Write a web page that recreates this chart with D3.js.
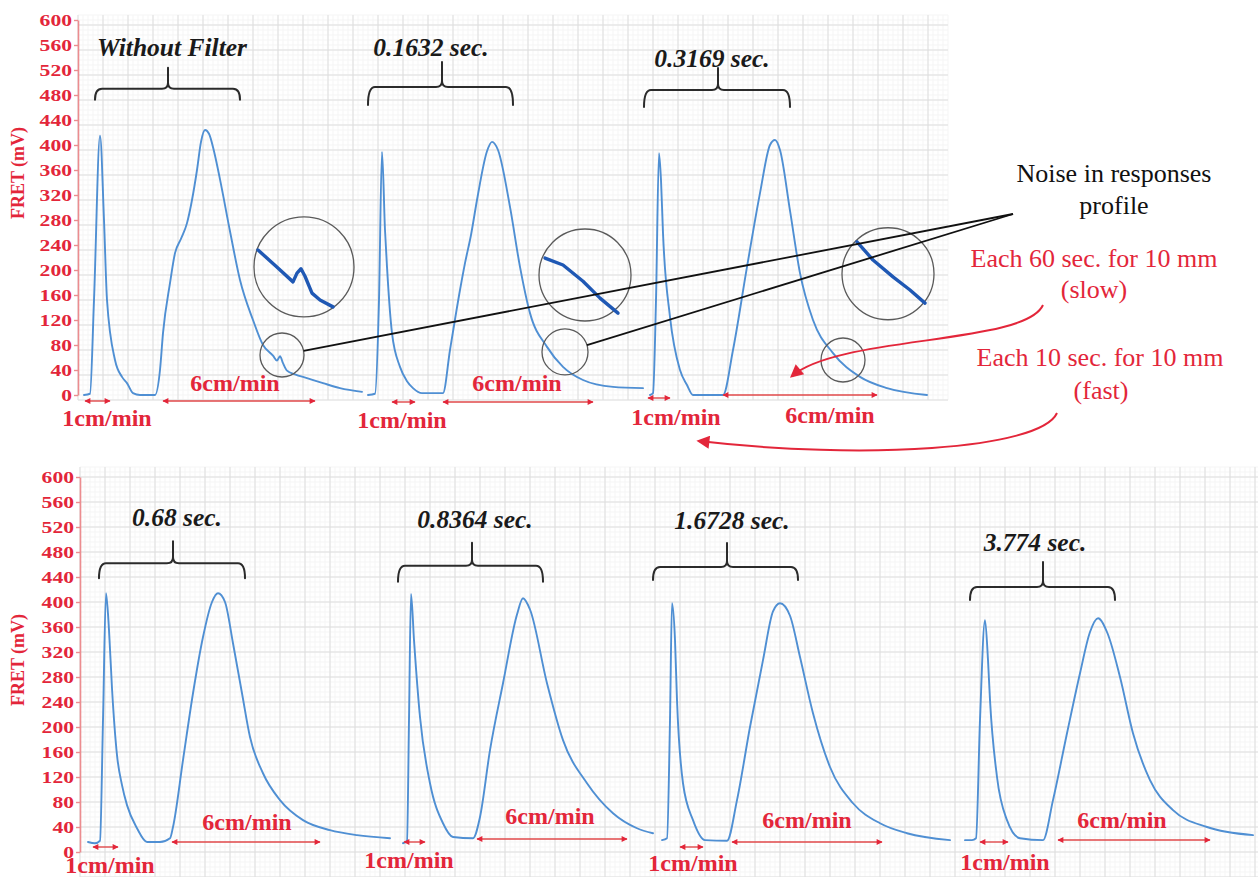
<!DOCTYPE html>
<html>
<head>
<meta charset="utf-8">
<script src="https://cdn.jsdelivr.net/npm/d3@7"></script>
<style>
  html, body { margin: 0; padding: 0; background: #fff; }
  svg { display: block; }
  svg text { font-family: "Liberation Serif", "Times New Roman", Tinos, "DejaVu Serif", serif; }
</style>
</head>
<body>
<svg id="chart" width="1258" height="877"></svg>
<script>
// ---- FRET response profiles (x: chart-paper divisions, y: FRET in mV) ----
const yTicks = [0, 40, 80, 120, 160, 200, 240, 280, 320, 360, 400, 440, 480, 520, 560, 600];

// upper strip
const withoutFilter = [[0.24,0],[0.48,2],[0.64,152],[0.88,415],[1.04,280],[1.16,152],[1.48,56],[1.76,29],[1.96,19],[2.2,3],[2.48,0],[3.08,0],
  [3.28,40],[3.4,99],[3.68,179],[3.88,227],[4.12,250],[4.36,275],[4.56,312],[4.76,360],[4.92,405],[5.08,424],[5.24,418],[5.44,390],[5.68,345],
  [6.08,262],[6.48,184],[7.0,120],[7.4,80],[7.8,63],[7.96,55],[8.08,62],[8.2,51],[8.36,39],[8.68,33],[9.16,27],[9.8,19],[10.48,11],[11.36,5]];
const filter01632 = [[11.6,0],[11.88,2],[12.04,152],[12.16,389],[12.28,264],[12.36,205],[12.56,99],[12.88,45],[13.16,22],[13.4,11],[13.76,3],[14.6,3],
  [14.88,72],[15.28,168],[15.48,211],[15.72,256],[15.96,312],[16.36,390],[16.56,405],[16.8,392],[17.28,301],[17.68,205],[18.08,131],
  [18.76,77],[19.4,45],[20.2,24],[21.4,13],[22.6,11]];
const filter03169 = [[22.88,0],[23.0,3],[23.12,152],[23.24,387],[23.32,344],[23.4,259],[23.68,125],[24.08,40],[24.36,16],[24.6,0],[25.8,0],
  [26.2,72],[26.76,205],[27.28,323],[27.68,400],[27.88,408],[28.08,392],[28.48,295],[28.88,195],[29.4,120],[30.2,67],[31.28,29],[32.36,11],[33.96,0]];

// lower strip
const filter068 = [[0.32,16],[0.6,14],[0.8,18],[0.92,211],[1.04,414],[1.16,355],[1.28,262],[1.48,155],[1.68,107],[1.88,75],[2.28,38],[2.68,16],[3.2,16],
  [3.6,22],[3.72,40],[4.12,147],[4.52,254],[4.92,344],[5.28,400],[5.52,414],[5.8,400],[6.12,334],[6.48,254],[6.8,184],[7.32,126],[8.0,83],
  [8.92,51],[10.0,35],[11.08,27],[12.4,22]];
const filter08364 = [[12.92,14],[13.08,18],[13.16,211],[13.24,413],[13.36,339],[13.6,216],[14.0,110],[14.52,46],[14.92,24],[15.72,22],
  [16.0,56],[16.4,163],[16.92,270],[17.48,380],[17.72,406],[18.0,388],[18.68,270],[19.32,179],[20.28,110],[21.32,62],[22.28,38],[22.92,30]];
const filter16728 = [[23.28,19],[23.48,22],[23.6,211],[23.68,398],[23.8,339],[23.88,243],[24.12,110],[24.52,51],[25.0,19],[25.88,18],
  [26.28,83],[26.8,200],[27.32,307],[27.72,385],[28.0,398],[28.4,378],[28.8,312],[29.32,222],[30.0,136],[30.92,78],[32.0,46],[33.08,30],[34.8,19]];
const filter3774 = [[35.4,19],[35.68,19],[35.84,22],[36.0,211],[36.2,371],[36.32,307],[36.4,243],[36.68,120],[37.08,51],[37.6,22],[38.52,19],
  [38.92,83],[39.48,190],[40.0,286],[40.4,352],[40.72,374],[41.1,350],[41.6,280],[42.12,190],[42.8,115],[43.72,67],[45.08,40],[46.92,27]];

// magnified views of the tail noise (upper strip)
const zoomNoise1 = [[7.2,232],[7.92,206],[8.6,181],[8.76,195],[8.92,202],[9.08,190],[9.36,163],[9.68,152],[10.2,141]];
const zoomNoise2 = [[18.68,219],[19.4,208],[20.2,182],[20.88,155],[21.6,131]];
const zoomNoise3 = [[31.16,245],[31.8,216],[32.6,189],[33.28,168],[33.88,147]];

// lens circles: centre (div, mV), radius (div)
const lensCircles = [
  { cx: 9.04, cy: 205, r: 2.0 }, { cx: 8.16, cy: 64, r: 0.88, lead: true },
  { cx: 20.28, cy: 192, r: 1.84 }, { cx: 19.48, cy: 69, r: 0.92, lead: true },
  { cx: 32.4, cy: 194, r: 1.84 }, { cx: 30.6, cy: 56, r: 0.88 }
];

// filter time-constant labels over each run
const bracketLabels = ["Without Filter", "0.1632 sec.", "0.3169 sec.", "0.68 sec.", "0.8364 sec.", "1.6728 sec.", "3.774 sec."];
const bracketSpans = [
  { p: 0, x0: 0.68, x1: 6.48, xc: 3.6, top: 490, drop: 11, tick: 21, lx: 3.76, lift: 42 },
  { p: 0, x0: 11.6, x1: 17.4, xc: 14.56, top: 493, drop: 18, tick: 25, lx: 14.12, lift: 40 },
  { p: 0, x0: 22.64, x1: 28.48, xc: 25.6, top: 488, drop: 17, tick: 22, lx: 25.36, lift: 32 },
  { p: 1, x0: 0.76, x1: 6.6, xc: 3.72, top: 462, drop: 15, tick: 22, lx: 3.88, lift: 46 },
  { p: 1, x0: 12.72, x1: 18.52, xc: 15.68, top: 458, drop: 16, tick: 23, lx: 15.8, lift: 47 },
  { p: 1, x0: 22.92, x1: 28.72, xc: 25.88, top: 456, drop: 13, tick: 24, lx: 26.08, lift: 47 },
  { p: 1, x0: 35.6, x1: 41.4, xc: 38.52, top: 424, drop: 13, tick: 25, lx: 38.2, lift: 45 }
];

// chart speed markers (double arrows under the traces)
const speedLabels = ["1cm/min", "6cm/min"];
const speedMarks = [
  { p: 0, s: 0, x0: 0.28, x1: 1.28, off: 6, lx: 1.16, loff: 23 },
  { p: 0, s: 1, x0: 3.4, x1: 9.48, off: 6, lx: 6.28, loff: -12 },
  { p: 0, s: 0, x0: 12.56, x1: 13.48, off: 7, lx: 12.96, loff: 25 },
  { p: 0, s: 1, x0: 14.6, x1: 20.6, off: 7, lx: 17.56, loff: -12 },
  { p: 0, s: 0, x0: 22.8, x1: 23.68, off: 3, lx: 23.92, loff: 22 },
  { p: 0, s: 1, x0: 25.8, x1: 31.96, off: 0, lx: 30.08, loff: 20 },
  { p: 1, s: 0, x0: 0.52, x1: 1.52, off: -5, lx: 1.2, loff: 13 },
  { p: 1, s: 1, x0: 3.68, x1: 9.6, off: -10, lx: 6.68, loff: -30 },
  { p: 1, s: 0, x0: 12.96, x1: 13.8, off: -10, lx: 13.16, loff: 8 },
  { p: 1, s: 1, x0: 15.88, x1: 21.88, off: -13, lx: 18.8, loff: -36 },
  { p: 1, s: 0, x0: 24.0, x1: 24.92, off: -5, lx: 24.52, loff: 11 },
  { p: 1, s: 1, x0: 26.08, x1: 32.08, off: -10, lx: 29.08, loff: -32 },
  { p: 1, s: 0, x0: 36.0, x1: 37.12, off: -10, lx: 37.0, loff: 10 },
  { p: 1, s: 1, x0: 39.12, x1: 45.2, off: -12, lx: 41.68, loff: -32 }
];

// ---- drawing ----
const SERIF = '"Liberation Serif", "Times New Roman", Tinos, "DejaVu Serif", serif';
const RED = "#e3263a";
const AXIS_RED = "#ec8c8f";
const TRACE = "#4f8fd3";
const svg = d3.select("#chart");
const defs = svg.append("defs");

defs.append("marker").attr("id", "bigHead").attr("viewBox", "0 0 10 10")
  .attr("refX", 8).attr("refY", 5).attr("markerWidth", 15).attr("markerHeight", 13)
  .attr("markerUnits", "userSpaceOnUse").attr("orient", "auto")
  .append("path").attr("d", "M0,0 L10,5 L0,10 Z").attr("fill", RED);
defs.append("marker").attr("id", "smallHead").attr("viewBox", "0 0 10 10")
  .attr("refX", 9).attr("refY", 5).attr("markerWidth", 7).attr("markerHeight", 6)
  .attr("markerUnits", "userSpaceOnUse").attr("orient", "auto-start-reverse")
  .append("path").attr("d", "M0,0 L10,5 L0,10 Z").attr("fill", RED);

const panels = [
  { x: d3.scaleLinear().domain([0, 35]).range([78, 953]),
    y: d3.scaleLinear().domain([0, 600]).range([395, 20]),
    gx: [0, 34.8], gy: [-8, 608], labelY: 173,
    traces: [withoutFilter, filter01632, filter03169] },
  { x: d3.scaleLinear().domain([0, 47.12]).range([80, 1258]),
    y: d3.scaleLinear().domain([0, 600]).range([852, 477]),
    gx: [0, 47.12], gy: [-40, 616], labelY: 660,
    traces: [filter068, filter08364, filter16728, filter3774] }
];

panels.forEach(p => {
  const g = svg.append("g");
  // chart-paper grid
  const grid = g.append("g");
  const xl = p.x(p.gx[0]), xr = p.x(p.gx[1]);
  const yb = p.y(p.gy[0]), yt = p.y(p.gy[1]);
  const minorX = d3.range(p.gx[0], p.gx[1] + 1e-6, 0.2);
  const minorY = d3.range(p.gy[0], p.gy[1] + 1e-6, 8);
  grid.append("g").selectAll("line").data(minorX).join("line")
    .attr("x1", d => p.x(d)).attr("x2", d => p.x(d)).attr("y1", yb).attr("y2", yt)
    .attr("stroke", "#f5f5f5").attr("stroke-width", 1);
  grid.append("g").selectAll("line").data(minorY).join("line")
    .attr("x1", xl).attr("x2", xr).attr("y1", d => p.y(d)).attr("y2", d => p.y(d))
    .attr("stroke", "#f5f5f5").attr("stroke-width", 1);
  const majorX = d3.range(p.gx[0], p.gx[1] + 1e-6, 1);
  const majorY = d3.range(p.gy[0], p.gy[1] + 1e-6, 40);
  grid.append("g").selectAll("line").data(majorX).join("line")
    .attr("x1", d => p.x(d)).attr("x2", d => p.x(d)).attr("y1", yb).attr("y2", yt)
    .attr("stroke", "#dedede").attr("stroke-width", 1);
  grid.append("g").selectAll("line").data(majorY).join("line")
    .attr("x1", xl).attr("x2", xr).attr("y1", d => p.y(d)).attr("y2", d => p.y(d))
    .attr("stroke", "#dedede").attr("stroke-width", 1);

  // y axis
  const ax = g.append("g").attr("transform", `translate(${p.x(0)},0)`)
    .call(d3.axisLeft(p.y).tickValues(yTicks).tickSize(4).tickSizeOuter(0).tickPadding(2));
  ax.select(".domain").attr("stroke", AXIS_RED).attr("stroke-width", 1.6);
  ax.selectAll(".tick line").attr("stroke", AXIS_RED).attr("stroke-width", 1.4);
  ax.selectAll(".tick text")
    .attr("fill", RED).style("font-family", SERIF)
    .attr("font-weight", "bold").attr("font-size", 16)
    .each(function () {
      const w = this.getComputedTextLength();
      d3.select(this).attr("textLength", w * 1.35).attr("lengthAdjust", "spacingAndGlyphs");
    });

  svg.append("text")
    .attr("transform", `translate(18,${p.labelY}) rotate(-90)`)
    .attr("text-anchor", "middle").attr("dy", "0.35em")
    .attr("fill", RED).style("font-family", SERIF)
    .attr("font-weight", "bold").attr("font-size", 18)
    .text("FRET (mV)");

  // response traces
  const line = d3.line().x(d => p.x(d[0])).y(d => p.y(d[1])).curve(d3.curveMonotoneX);
  g.append("g").selectAll("path").data(p.traces).join("path")
    .attr("d", line).attr("fill", "none").attr("stroke", TRACE)
    .attr("stroke-width", 1.9).attr("stroke-linejoin", "round").attr("stroke-linecap", "round");
});

// ---- lenses and magnified noise (upper strip) ----
const P0 = panels[0];
const lensG = svg.append("g");
lensG.selectAll("circle").data(lensCircles).join("circle")
  .attr("cx", d => P0.x(d.cx)).attr("cy", d => P0.y(d.cy))
  .attr("r", d => P0.x(d.r) - P0.x(0))
  .attr("fill", "none").attr("stroke", "#5a5a5a").attr("stroke-width", 1.3);
const zLine = d3.line().x(d => P0.x(d[0])).y(d => P0.y(d[1]));
lensG.selectAll("path").data([zoomNoise1, zoomNoise2, zoomNoise3]).join("path")
  .attr("d", zLine).attr("fill", "none").attr("stroke", "#1f58b4")
  .attr("stroke-width", 3.4).attr("stroke-linejoin", "round").attr("stroke-linecap", "round");

// leader lines to the note
const noteAnchor = [1013, 214];
lensCircles.filter(d => d.lead).forEach(d => {
  const cx = P0.x(d.cx), cy = P0.y(d.cy), r = P0.x(d.r) - P0.x(0);
  const a = Math.atan2(noteAnchor[1] - cy, noteAnchor[0] - cx);
  svg.append("line")
    .attr("x1", cx + r * Math.cos(a)).attr("y1", cy + r * Math.sin(a))
    .attr("x2", noteAnchor[0]).attr("y2", noteAnchor[1])
    .attr("stroke", "#111").attr("stroke-width", 1.8);
});

// ---- brackets with filter labels ----
bracketSpans.forEach((b, i) => {
  const p = panels[b.p];
  const x0 = p.x(b.x0), x1 = p.x(b.x1), xc = p.x(b.xc), yt = p.y(b.top);
  const d = `M${x0},${yt + b.drop} Q${x0},${yt} ${x0 + 7},${yt} H${xc - 6} Q${xc},${yt} ${xc},${yt - 6} V${yt - b.tick}` +
            ` M${xc},${yt - 6} Q${xc},${yt} ${xc + 6},${yt} H${x1 - 7} Q${x1},${yt} ${x1},${yt + b.drop}`;
  svg.append("path").attr("d", d).attr("fill", "none").attr("stroke", "#2b2b2b")
    .attr("stroke-width", 2).attr("stroke-linecap", "round");
  svg.append("text")
    .attr("x", p.x(b.lx)).attr("y", yt - b.lift).attr("dy", "0.35em")
    .attr("text-anchor", "middle")
    .style("font-family", SERIF).attr("font-style", "italic")
    .attr("font-weight", "bold").attr("font-size", 25.5).attr("fill", "#1a1a1a")
    .text(bracketLabels[i]);
});

// ---- chart-speed markers ----
speedMarks.forEach(m => {
  const p = panels[m.p];
  const y0 = p.y(0);
  svg.append("line")
    .attr("x1", p.x(m.x0)).attr("x2", p.x(m.x1))
    .attr("y1", y0 + m.off).attr("y2", y0 + m.off)
    .attr("stroke", "#e0484a").attr("stroke-width", 1.4)
    .attr("marker-start", "url(#smallHead)").attr("marker-end", "url(#smallHead)");
  svg.append("text")
    .attr("x", p.x(m.lx)).attr("y", y0 + m.loff).attr("dy", "0.35em")
    .attr("text-anchor", "middle")
    .style("font-family", SERIF).attr("font-weight", "bold")
    .attr("font-size", 24).attr("fill", RED)
    .text(speedLabels[m.s]);
});

// ---- side notes ----
const notes = [
  { t: "Noise in responses", x: 1114, y: 173, c: "#111" },
  { t: "profile", x: 1114, y: 205, c: "#111" },
  { t: "Each 60 sec. for 10 mm", x: 1094, y: 258, c: RED },
  { t: "(slow)", x: 1094, y: 289, c: RED },
  { t: "Each 10 sec. for 10 mm", x: 1100, y: 357, c: RED },
  { t: "(fast)", x: 1101, y: 390, c: RED }
];
svg.append("g").selectAll("text").data(notes).join("text")
  .attr("x", d => d.x).attr("y", d => d.y).attr("dy", "0.35em")
  .attr("text-anchor", "middle")
  .style("font-family", SERIF).attr("font-size", 26)
  .attr("fill", d => d.c).text(d => d.t);

svg.append("path")
  .attr("d", "M1043,305 C1025,345 840,335 792,376")
  .attr("fill", "none").attr("stroke", RED).attr("stroke-width", 2)
  .attr("marker-end", "url(#bigHead)");
svg.append("path")
  .attr("d", "M1057,413 C1040,450 860,460 699,441")
  .attr("fill", "none").attr("stroke", RED).attr("stroke-width", 2)
  .attr("marker-end", "url(#bigHead)");
</script>
</body>
</html>
